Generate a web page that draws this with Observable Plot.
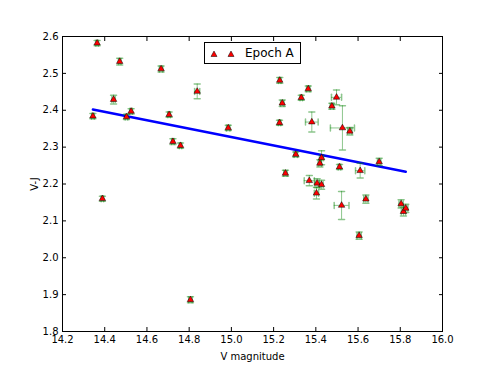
<!DOCTYPE html>
<html><head><meta charset="utf-8">
<script src="https://cdn.jsdelivr.net/npm/d3@7"></script>
<script src="https://cdn.jsdelivr.net/npm/@observablehq/plot@0.6"></script>
<style>
body{margin:0;background:#fff;font-family:"DejaVu Sans",sans-serif;}
#wrap{position:relative;width:491px;height:368px;}
#legend{position:absolute;left:204px;top:42px;width:97px;height:22px;border:1px solid #000;background:#fff;box-sizing:border-box;font-size:12px;color:#000;}
#legend svg{position:absolute;left:0;top:0;}
#legend span{position:absolute;left:40px;top:3px;line-height:14px;}
</style></head><body><div id="wrap"></div>
<script>
const xTicks = [14.2, 14.4, 14.6, 14.8, 15.0, 15.2, 15.4, 15.6, 15.8, 16.0];
const yTicks = [1.8, 1.9, 2.0, 2.1, 2.2, 2.3, 2.4, 2.5, 2.6];
const vmag = [14.344, 14.364, 14.389, 14.442, 14.471, 14.503, 14.525, 14.667, 14.705, 14.723, 14.759, 14.806, 14.838, 14.985, 15.228, 15.229, 15.241, 15.256, 15.305, 15.331, 15.364, 15.369, 15.381, 15.403, 15.406, 15.419, 15.427, 15.427, 15.476, 15.498, 15.512, 15.522, 15.526, 15.561, 15.605, 15.610, 15.637, 15.700, 15.804, 15.815, 15.826];
const vj = [2.384, 2.582, 2.160, 2.429, 2.532, 2.382, 2.397, 2.512, 2.388, 2.315, 2.304, 1.886, 2.451, 2.352, 2.366, 2.481, 2.419, 2.229, 2.280, 2.434, 2.458, 2.209, 2.368, 2.175, 2.202, 2.256, 2.271, 2.198, 2.411, 2.435, 2.246, 2.142, 2.352, 2.343, 2.060, 2.236, 2.159, 2.260, 2.146, 2.125, 2.134];
const vjErr = [0.007, 0.007, 0.007, 0.012, 0.009, 0.007, 0.007, 0.008, 0.007, 0.008, 0.007, 0.008, 0.020, 0.007, 0.007, 0.008, 0.009, 0.008, 0.007, 0.007, 0.008, 0.014, 0.027, 0.016, 0.012, 0.010, 0.019, 0.012, 0.008, 0.020, 0.007, 0.038, 0.060, 0.010, 0.010, 0.020, 0.011, 0.010, 0.011, 0.012, 0.011];
const vmagErr = [0.006, 0.006, 0.006, 0.008, 0.006, 0.006, 0.006, 0.008, 0.006, 0.006, 0.006, 0.008, 0.012, 0.008, 0.006, 0.006, 0.008, 0.008, 0.008, 0.006, 0.008, 0.024, 0.030, 0.010, 0.010, 0.008, 0.010, 0.008, 0.008, 0.024, 0.006, 0.035, 0.057, 0.010, 0.010, 0.022, 0.010, 0.008, 0.010, 0.010, 0.010];
const fitX = [14.344, 15.826];
const fitY = [2.402, 2.233];

const data = vmag.map((x, i) => ({x, y: vj[i], ye: vjErr[i], xe: vmagErr[i]}));
const fit = fitX.map((x, i) => ({x, y: fitY[i]}));

const segShape = {draw(ctx, l) { ctx.moveTo(0, 0); ctx.lineTo(0, -l); }};
const errColor = "#008000", errOp = 0.45;
const fmt = d3.format(".1f");

const chart = Plot.plot({
  width: 491, height: 368,
  marginLeft: 62, marginRight: 49, marginTop: 36, marginBottom: 37,
  style: {fontFamily: "DejaVu Sans, sans-serif", fontSize: "10px", color: "#000", background: "#fff"},
  x: {domain: [14.2, 16.0]},
  y: {domain: [1.8, 2.6]},
  marks: [
    Plot.axisX({ticks: xTicks, tickSize: 0, tickPadding: 4, tickFormat: fmt, label: "V magnitude", labelAnchor: "center", labelArrow: "none", labelOffset: 28}),
    Plot.axisX({ticks: xTicks, tickSize: -4, fill: "none", label: null}),
    Plot.axisX({anchor: "top", ticks: xTicks, tickSize: -4, fill: "none", label: null}),
    Plot.axisY({ticks: yTicks, tickSize: 0, tickPadding: 4, tickFormat: fmt, label: "V-J", labelAnchor: "center", labelArrow: "none", labelOffset: 32}),
    Plot.axisY({ticks: yTicks, tickSize: -4, fill: "none", label: null}),
    Plot.axisY({anchor: "right", ticks: yTicks, tickSize: -4, fill: "none", label: null}),
    Plot.line(fit, {x: "x", y: "y", stroke: "#0000ff", strokeWidth: 2.5}),
    Plot.ruleX(data, {x: "x", y1: d => d.y - d.ye, y2: d => d.y + d.ye, stroke: errColor, strokeOpacity: errOp}),
    Plot.ruleY(data, {y: "y", x1: d => d.x - d.xe, x2: d => d.x + d.xe, stroke: errColor, strokeOpacity: errOp}),
    Plot.vector(data, {x: "x", y: d => d.y + d.ye, length: 6, rotate: 90, anchor: "middle", shape: segShape, stroke: errColor, strokeOpacity: errOp}),
    Plot.vector(data, {x: "x", y: d => d.y - d.ye, length: 6, rotate: 90, anchor: "middle", shape: segShape, stroke: errColor, strokeOpacity: errOp}),
    Plot.vector(data, {x: d => d.x + d.xe, y: "y", length: 6, rotate: 0, anchor: "middle", shape: segShape, stroke: errColor, strokeOpacity: errOp}),
    Plot.vector(data, {x: d => d.x - d.xe, y: "y", length: 6, rotate: 0, anchor: "middle", shape: segShape, stroke: errColor, strokeOpacity: errOp}),
    Plot.dot(data, {x: "x", y: "y", symbol: "triangle", r: 2.4, fill: "#ff0000", stroke: "#000", strokeWidth: 0.5}),
    Plot.frame({stroke: "#000"})
  ]
});
const wrap = document.getElementById("wrap");
wrap.appendChild(chart);
const leg = document.createElement("div");
leg.id = "legend";
leg.innerHTML = '<svg width="40" height="20"><polygon points="9,8 12,13.5 6,13.5" fill="#ff0000" stroke="#000" stroke-width="0.5"/><polygon points="26,8 29,13.5 23,13.5" fill="#ff0000" stroke="#000" stroke-width="0.5"/></svg><span>Epoch A</span>';
wrap.appendChild(leg);
</script></body></html>
